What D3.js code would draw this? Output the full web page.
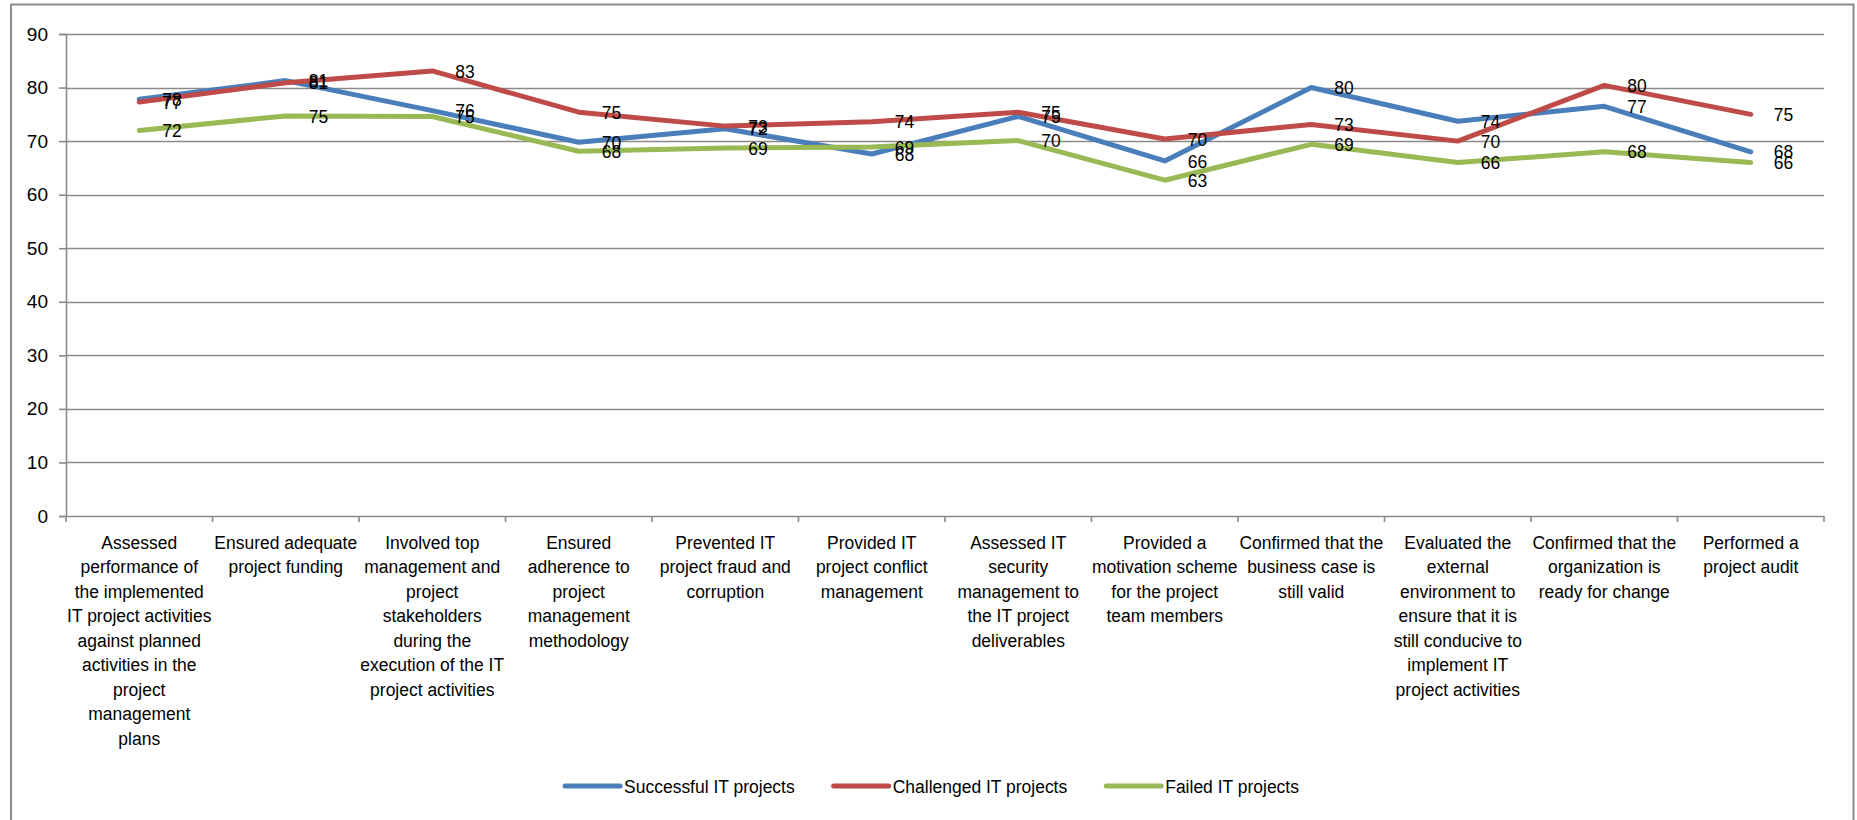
<!DOCTYPE html>
<html>
<head>
<meta charset="utf-8">
<script src="https://cdn.jsdelivr.net/npm/d3@7"></script>
<style>
  html, body { margin: 0; padding: 0; background: #fff; }
  svg { display: block; }
  text { font-family: "Liberation Sans", Arial, sans-serif; fill: #000; }
</style>
</head>
<body>
<svg id="chart" width="1857" height="820"></svg>
<script>
// Category labels, pre-wrapped into lines
const categories = [
  ["Assessed", "performance of", "the implemented", "IT project activities", "against planned", "activities in the", "project", "management", "plans"],
  ["Ensured adequate", "project funding"],
  ["Involved top", "management and", "project", "stakeholders", "during the", "execution of the IT", "project activities"],
  ["Ensured", "adherence to", "project", "management", "methodology"],
  ["Prevented IT", "project fraud and", "corruption"],
  ["Provided IT", "project conflict", "management"],
  ["Assessed IT", "security", "management to", "the IT project", "deliverables"],
  ["Provided a", "motivation scheme", "for the project", "team members"],
  ["Confirmed that the", "business case is", "still valid"],
  ["Evaluated the", "external", "environment to", "ensure that it is", "still conducive to", "implement IT", "project activities"],
  ["Confirmed that the", "organization is", "ready for change"],
  ["Performed a", "project audit"]
];

// Percentages per practice
const successful = [77.8, 81.3, 75.7, 69.8, 72.3, 67.6, 74.6, 66.3, 80.0, 73.7, 76.5, 68.0];
const challenged = [77.3, 80.9, 83.1, 75.4, 72.8, 73.6, 75.4, 70.4, 73.1, 70.0, 80.4, 75.0];
const failed     = [72.0, 74.7, 74.6, 68.1, 68.7, 68.9, 70.1, 62.7, 69.4, 66.0, 68.0, 66.0];

const seriesNames  = ["Successful IT projects", "Challenged IT projects", "Failed IT projects"];
const seriesColors = ["#4A7EBB", "#BE4B48", "#98B954"];
const yTicks = [0, 10, 20, 30, 40, 50, 60, 70, 80, 90];

const series = [successful, challenged, failed].map((values, i) => ({
  name: seriesNames[i], color: seriesColors[i], values
}));

const svg = d3.select("#chart");
const FONT = 19;
const SX = 0.92;           // slightly condensed lettering
const gridColor = "#8A8A8A";

const plot = { left: 66, right: 1824, top: 34, bottom: 516 };

const x = d3.scaleBand()
  .domain(d3.range(categories.length))
  .range([plot.left, plot.right])
  .paddingInner(0).paddingOuter(0);
const y = d3.scaleLinear().domain([0, 90]).range([plot.bottom, plot.top]);
const cx = i => x(i) + x.bandwidth() / 2;

// outer chart frame
svg.append("rect")
  .attr("x", 11).attr("y", 4.5)
  .attr("width", 1842.5).attr("height", 830)
  .attr("fill", "none").attr("stroke", "#8C8C8C").attr("stroke-width", 2);

// horizontal gridlines
svg.append("g").selectAll("line")
  .data(yTicks.filter(t => t > 0))
  .join("line")
  .attr("x1", plot.left).attr("x2", plot.right)
  .attr("y1", d => Math.round(y(d)) + 0.5).attr("y2", d => Math.round(y(d)) + 0.5)
  .attr("stroke", gridColor).attr("stroke-width", 1.6);

// y axis
const yAxis = d3.axisLeft(y).tickValues(yTicks).tickSize(7).tickPadding(11).tickFormat(d3.format("d"));
const gy = svg.append("g").attr("transform", `translate(${plot.left},0)`).call(yAxis);
gy.select(".domain").attr("stroke", gridColor).attr("stroke-width", 1.6);
gy.selectAll(".tick line").attr("stroke", gridColor).attr("stroke-width", 1.6);
gy.selectAll(".tick text")
  .attr("font-size", FONT).attr("fill", "#000")
  .attr("font-family", "Liberation Sans, Arial, sans-serif");

// x axis with ticks on category boundaries
const xAxis = d3.axisBottom(x).tickSize(0).tickFormat("");
const gx = svg.append("g").attr("transform", `translate(0,${plot.bottom})`).call(xAxis);
gx.select(".domain").attr("stroke", gridColor).attr("stroke-width", 1.6);
gx.selectAll(".tick").remove();
gx.selectAll("line.boundary")
  .data(d3.range(categories.length + 1))
  .join("line")
  .attr("class", "boundary")
  .attr("x1", i => i < categories.length ? x(i) : plot.right)
  .attr("x2", i => i < categories.length ? x(i) : plot.right)
  .attr("y1", 0).attr("y2", 6)
  .attr("stroke", gridColor).attr("stroke-width", 1.6);

// wrapped category labels
const catG = svg.append("g");
categories.forEach((lines, i) => {
  const t = catG.append("text")
    .attr("transform", `translate(${cx(i)},549) scale(${SX},1)`)
    .attr("text-anchor", "middle")
    .attr("font-size", FONT);
  lines.forEach((ln, k) => {
    t.append("tspan").attr("x", 0).attr("y", k * 24.5).text(ln);
  });
});

// series lines
const line = d3.line().x((d, i) => cx(i)).y(d => y(d));
svg.append("g").selectAll("path")
  .data(series)
  .join("path")
  .attr("d", s => line(s.values))
  .attr("fill", "none")
  .attr("stroke", s => s.color)
  .attr("stroke-width", 5)
  .attr("stroke-linejoin", "round")
  .attr("stroke-linecap", "round");

// value labels to the right of each point
const fmt = d3.format(".0f");
series.forEach(s => {
  svg.append("g").selectAll("text")
    .data(s.values)
    .join("text")
    .attr("transform", (d, i) => `translate(${cx(i) + 23},${y(d)}) scale(${SX},1)`)
    .attr("dy", "0.35em")
    .attr("font-size", FONT)
    .text(d => fmt(d));
});

// legend centred under the chart
const legend = svg.append("g");
const items = legend.selectAll("g").data(series).join("g");
items.append("line")
  .attr("x1", 0).attr("x2", 55).attr("y1", 0).attr("y2", 0)
  .attr("stroke", s => s.color).attr("stroke-width", 5).attr("stroke-linecap", "round");
items.append("text")
  .attr("transform", `translate(59,0) scale(${SX},1)`)
  .attr("dy", "0.35em")
  .attr("font-size", FONT)
  .text(s => s.name);
let offset = 0;
items.each(function () {
  const tw = d3.select(this).select("text").node().getComputedTextLength() * SX;
  d3.select(this).attr("transform", `translate(${offset},0)`);
  offset += 59 + tw + 39;
});
const legendWidth = offset - 39;
legend.attr("transform", `translate(${932 - legendWidth / 2},786)`);
</script>
</body>
</html>
